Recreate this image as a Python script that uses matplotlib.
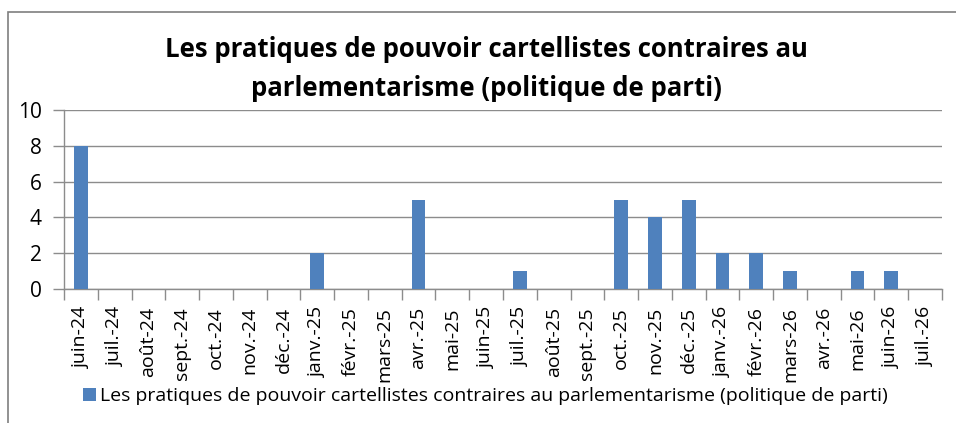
import matplotlib
matplotlib.use('Agg')
import matplotlib.pyplot as plt
from matplotlib.patches import Rectangle, Patch
import numpy as np

# --- data ---
months = ['juin-24', 'juil.-24', 'août-24', 'sept.-24', 'oct.-24', 'nov.-24',
          'déc.-24', 'janv.-25', 'févr.-25', 'mars-25', 'avr.-25', 'mai-25',
          'juin-25', 'juil.-25', 'août-25', 'sept.-25', 'oct.-25', 'nov.-25',
          'déc.-25', 'janv.-26', 'févr.-26', 'mars-26', 'avr.-26', 'mai-26',
          'juin-26', 'juil.-26']
counts = [8, 0, 0, 0, 0, 0, 0, 2, 0, 0, 5, 0, 0, 1, 0, 0, 5, 4, 5, 2, 2, 1,
          0, 1, 1, 0]
series_name = ('Les pratiques de pouvoir cartellistes contraires au '
               'parlementarisme (politique de parti)')
title = ('Les pratiques de pouvoir cartellistes contraires au\n'
         'parlementarisme (politique de parti)')
y_ticks = [0, 2, 4, 6, 8, 10]

plt.rcParams['font.family'] = ['Open Sans', 'DejaVu Sans']

W, H = 956, 423
fig = plt.figure(figsize=(W / 100, H / 100), dpi=100)

# chart frame (runs off the right and bottom edges, as in the screenshot)
fig.patches.append(Rectangle((8 / W, -0.1), 1.2, 1.1 - 12 / H,
                             transform=fig.transFigure, fill=False,
                             edgecolor='#7f7f7f', linewidth=1.2))

left, right, top, bottom = 64, 942, 110, 289
ax = fig.add_axes([left / W, 1 - bottom / H, (right - left) / W,
                   (bottom - top) / H])

x = np.arange(len(months))
ax.bar(x, counts, width=0.41, color='#4f81bd', zorder=3)

ax.set_xlim(-0.5, len(months) - 0.5)
ax.set_ylim(0, 10)
ax.set_yticks(y_ticks)
ax.set_yticklabels([str(v) for v in y_ticks], fontsize=15)
ax.yaxis.grid(True, color='#8c8c8c', linewidth=1, zorder=0)

ax.set_xticks(x)
ax.set_xticklabels(months, rotation=90, fontsize=14)
ax.set_xticks(np.arange(len(months) + 1) - 0.5, minor=True)
ax.tick_params(axis='x', which='major', length=0, pad=13)
ax.tick_params(axis='x', which='minor', length=8, color='#8c8c8c', width=1)
ax.tick_params(axis='y', length=8, color='#8c8c8c', width=1, pad=8)

for side in ['top', 'right']:
    ax.spines[side].set_visible(False)
for side in ['left', 'bottom']:
    ax.spines[side].set_color('#8c8c8c')
    ax.spines[side].set_linewidth(1)

fig.text(486 / W, 1 - 69 / H, title, ha='center', va='center',
         fontsize=18.5, fontweight='bold', linespacing=1.6)

handle = Patch(facecolor='#4f81bd', edgecolor='none')
fig.legend([handle], [series_name], loc='center left',
           bbox_to_anchor=(83 / W, 1 - 396 / H), frameon=False, fontsize=14,
           handlelength=0.65, handleheight=0.65, handletextpad=0.25,
           borderpad=0, borderaxespad=0)

fig.savefig('out.png', dpi=100)
